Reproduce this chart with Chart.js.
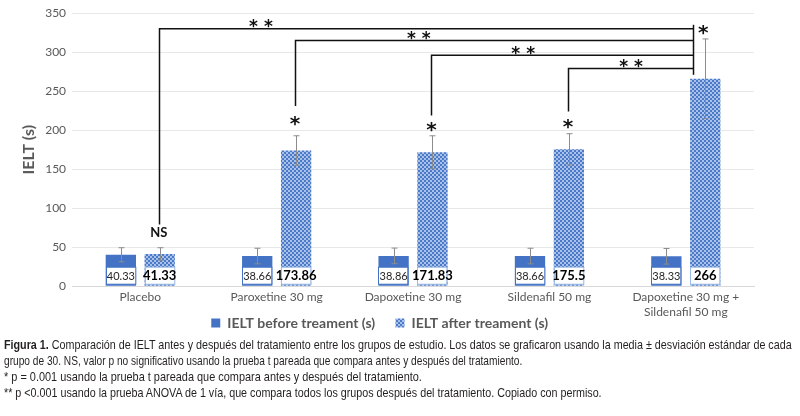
<!DOCTYPE html>
<html>
<head>
<meta charset="utf-8">
<script src="https://cdn.jsdelivr.net/npm/chart.js@4"></script>
<style>
    body { margin: 0; background: #fff; }
    #wrap { position: relative; width: 800px; height: 416px; }
    .caption {
        position: absolute;
        left: 0;
        top: 337px;
        font-family: "Liberation Sans", Arial, sans-serif;
        font-size: 13px;
        line-height: 16px;
        color: #231f20;
        padding-left: 4px;
        white-space: nowrap;
    }
    .caption span { display: inline-block; transform-origin: 0 0; }
    .caption b { font-weight: bold; }
</style>
</head>
<body>
<div id="wrap">
<canvas id="ieltChart" width="800" height="347"></canvas>
<div class="caption">
    <div><span data-w="788"><b>Figura 1.</b> Comparación de IELT antes y después del tratamiento entre los grupos de estudio. Los datos se graficaron usando la media ± desviación estándar de cada</span></div>
    <div><span data-w="518">grupo de 30. NS, valor p no significativo usando la prueba t pareada que compara antes y después del tratamiento.</span></div>
    <div><span data-w="418">* p = 0.001 usando la prueba t pareada que compara antes y después del tratamiento.</span></div>
    <div><span data-w="598">** p &lt;0.001 usando la prueba ANOVA de 1 vía, que compara todos los grupos después del tratamiento. Copiado con permiso.</span></div>
</div>
</div>
<script>
// Chart data
const groups = ['Placebo', 'Paroxetine 30 mg', 'Dapoxetine 30 mg', 'Sildenafil 50 mg', ['Dapoxetine 30 mg +', 'Sildenafil 50 mg']];
const beforeValues = [40.33, 38.66, 38.86, 38.66, 38.33];
const afterValues = [41.33, 173.86, 171.83, 175.5, 266];
const beforeSD = [9, 10, 10, 10, 10];
const afterSD = [8, 19, 21, 20, 51];
const yTicks = [0, 50, 100, 150, 200, 250, 300, 350];

const BLUE = '#4472c4';
const GREY = '#595959';

// Squeeze caption lines to the narrow width of the printed figure
document.querySelectorAll('.caption span').forEach(span => {
    const target = Number(span.dataset.w);
    span.style.transform = 'scaleX(' + (target / span.offsetWidth) + ')';
});

// Checkered fill for the "after" bars
function makePattern() {
    const tile = document.createElement('canvas');
    tile.width = 4;
    tile.height = 4;
    const t = tile.getContext('2d');
    t.fillStyle = '#ffffff';
    t.fillRect(0, 0, 4, 4);
    t.fillStyle = '#4a7ac8';
    t.fillRect(0, 0, 2, 2);
    t.fillRect(2, 2, 2, 2);
    t.fillStyle = '#a9c1e8';
    t.fillRect(2, 0, 2, 2);
    t.fillRect(0, 2, 2, 2);
    return document.getElementById('ieltChart').getContext('2d').createPattern(tile, 'repeat');
}

// Pull the legend up, closer to the two-line category label
const legendLift = {
    id: 'legendLift',
    afterLayout(chart) {
        if (chart.legend) {
            chart.legend.top -= 7;
            chart.legend.bottom -= 7;
        }
    }
};

// Error bars (mean ± SD)
const errorBars = {
    id: 'errorBars',
    afterDatasetsDraw(chart) {
        const ctx = chart.ctx;
        const y = chart.scales.y;
        const sds = [beforeSD, afterSD];
        ctx.save();
        ctx.strokeStyle = '#8c8c8c';
        ctx.lineWidth = 1;
        chart.data.datasets.forEach((ds, di) => {
            chart.getDatasetMeta(di).data.forEach((bar, i) => {
                const v = ds.data[i];
                const top = y.getPixelForValue(v + sds[di][i]);
                const bot = y.getPixelForValue(v - sds[di][i]);
                const x = Math.round(bar.x) + 0.5;
                ctx.beginPath();
                ctx.moveTo(x, top);
                ctx.lineTo(x, bot);
                ctx.moveTo(x - 3, top);
                ctx.lineTo(x + 3, top);
                ctx.moveTo(x - 3, bot);
                ctx.lineTo(x + 3, bot);
                ctx.stroke();
            });
        });
        ctx.restore();
    }
};

// Value boxes at the bottom of each bar
const valueBoxes = {
    id: 'valueBoxes',
    afterDatasetsDraw(chart) {
        const ctx = chart.ctx;
        const base = chart.scales.y.getPixelForValue(0);
        ctx.save();
        ctx.textAlign = 'center';
        ctx.textBaseline = 'middle';
        chart.data.datasets.forEach((ds, di) => {
            chart.getDatasetMeta(di).data.forEach((bar, i) => {
                const w = bar.width;
                const left = Math.round(bar.x - w / 2) + 0.5;
                const top = base - 19;
                ctx.fillStyle = '#ffffff';
                ctx.fillRect(left, top, w - 1, 17);
                ctx.strokeStyle = di === 0 ? BLUE : '#9dbbe6';
                ctx.lineWidth = 1;
                ctx.strokeRect(left, top, w - 1, 17);
                ctx.fillStyle = di === 0 ? '#262626' : '#000000';
                ctx.font = di === 0 ? '11px Lato' : 'bold 13px Lato';
                ctx.fillText(String(ds.data[i]), bar.x, top + 9);
            });
        });
        ctx.restore();
    }
};

// Significance brackets, levels in axis units
const brackets = [
    { from: 0, level: 330, drop: 79, starsAt: 0.19 },
    { from: 1, level: 315, drop: 231, starsAt: 0.31 },
    { from: 2, level: 296, drop: 219, starsAt: 0.35 },
    { from: 3, level: 279, drop: 224, starsAt: 0.5 }
];
const pairedMarks = [
    { group: 0, level: 69, text: 'NS' },
    { group: 1, level: 213, text: '*' },
    { group: 2, level: 206, text: '*' },
    { group: 3, level: 209, text: '*' },
    { group: 4, level: 330, text: '*' }
];

const significance = {
    id: 'significance',
    afterDatasetsDraw(chart) {
        const ctx = chart.ctx;
        const y = chart.scales.y;
        const after = chart.getDatasetMeta(1).data;
        const last = after[after.length - 1];
        const rightX = Math.round(last.x - last.width * 0.4) + 0.5;
        ctx.save();
        ctx.strokeStyle = '#111111';
        ctx.lineWidth = 1.5;
        ctx.fillStyle = '#111111';
        ctx.textAlign = 'center';
        ctx.textBaseline = 'middle';
        brackets.forEach(b => {
            const x0 = Math.round(after[b.from].x) - 0.5;
            const yl = y.getPixelForValue(b.level);
            ctx.beginPath();
            ctx.moveTo(x0, y.getPixelForValue(b.drop));
            ctx.lineTo(x0, yl);
            ctx.lineTo(rightX, yl);
            ctx.stroke();
            ctx.font = 'bold 17px "DejaVu Sans"';
            ctx.fillText('* *', x0 + (rightX - x0) * b.starsAt, yl - 1);
        });
        ctx.beginPath();
        ctx.moveTo(rightX, y.getPixelForValue(brackets[0].level) - 4);
        ctx.lineTo(rightX, y.getPixelForValue(271));
        ctx.stroke();
        pairedMarks.forEach(m => {
            const bar = after[m.group];
            const x = m.group === 4 ? bar.x - 2 : bar.x - 1;
            if (m.text === 'NS') {
                ctx.font = 'bold 13px Lato';
                ctx.fillText(m.text, x, y.getPixelForValue(m.level));
            } else {
                ctx.font = 'bold 20px "DejaVu Sans"';
                ctx.fillText(m.text, x, y.getPixelForValue(m.level) + 5);
            }
        });
        ctx.restore();
    }
};

const afterPattern = makePattern();

new Chart(document.getElementById('ieltChart'), {
    type: 'bar',
    data: {
        labels: groups,
        datasets: [{
            label: 'IELT before treament (s)',
            data: beforeValues,
            backgroundColor: BLUE,
            borderColor: BLUE,
            borderWidth: 0,
            categoryPercentage: 0.57,
            barPercentage: 0.78
        }, {
            label: 'IELT after treament (s)',
            data: afterValues,
            backgroundColor: afterPattern,
            borderWidth: 0,
            categoryPercentage: 0.57,
            barPercentage: 0.78
        }]
    },
    options: {
        responsive: false,
        animation: false,
        devicePixelRatio: 1,
        layout: {
            padding: { top: 10, right: 46, left: 19, bottom: 0 }
        },
        plugins: {
            legend: {
                position: 'bottom',
                labels: {
                    color: GREY,
                    font: { family: 'Lato', size: 14, weight: 'bold', lineHeight: 1 },
                    boxWidth: 9,
                    boxHeight: 9,
                    padding: 0,
                    generateLabels: chart => {
                        const items = Chart.defaults.plugins.legend.labels.generateLabels(chart);
                        items[0].text = items[0].text + '      ';
                        items[1].text = items[1].text + '    ';
                        return items;
                    }
                }
            },
            tooltip: { enabled: false }
        },
        scales: {
            y: {
                min: 0,
                max: 350,
                afterBuildTicks: axis => {
                    axis.ticks = yTicks.map(v => ({ value: v }));
                },
                grid: { color: '#e8e8e8', drawTicks: false },
                border: { display: false },
                ticks: {
                    color: GREY,
                    padding: 6,
                    font: { family: 'Lato', size: 12 }
                },
                title: {
                    display: true,
                    text: 'IELT (s)',
                    color: GREY,
                    padding: { top: 0, bottom: 1 },
                    font: { family: 'Lato', size: 16, weight: 'bold' }
                }
            },
            x: {
                grid: { display: false, drawTicks: false },
                border: { color: '#d9d9d9' },
                ticks: {
                    color: GREY,
                    padding: 4,
                    font: { family: 'Lato', size: 12, lineHeight: 1.2 },
                    maxRotation: 0,
                    autoSkip: false
                }
            }
        }
    },
    plugins: [legendLift, errorBars, valueBoxes, significance]
});
</script>
</body>
</html>
